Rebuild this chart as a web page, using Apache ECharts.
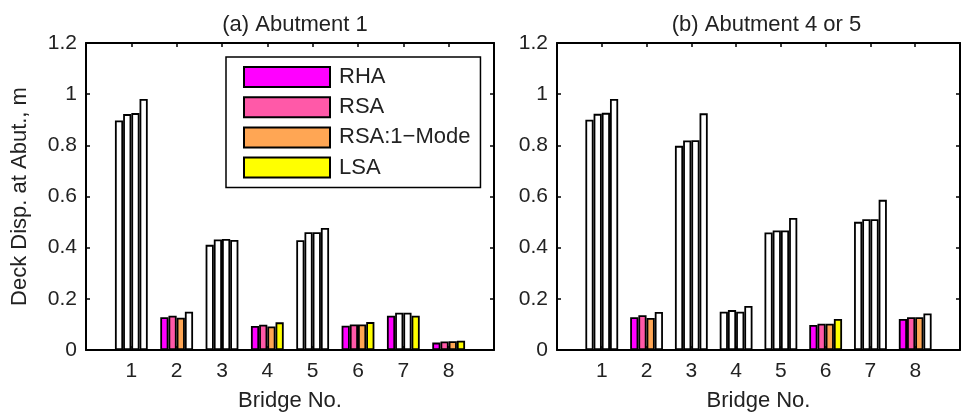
<!DOCTYPE html>
<html>
<head>
<meta charset="utf-8">
<script src="https://cdn.jsdelivr.net/npm/echarts@6/dist/echarts.min.js"></script>
<style>
html,body{margin:0;padding:0;background:#fff;}
#chart{width:963px;height:418px;}
</style>
</head>
<body>
<div id="chart"></div>
<script>
// ---- data ----
const bridges = [1, 2, 3, 4, 5, 6, 7, 8];
const xTickLabels = ['1', '2', '3', '4', '5', '6', '7', '8'];
const seriesNames = ['RHA', 'RSA', 'RSA:1\u2212Mode', 'LSA'];
const seriesColors = ['#ff00ff', '#ff59a8', '#ffa654', '#ffff00'];
const panelTitles = ['(a) Abutment 1', '(b) Abutment 4 or 5'];

// (a) Abutment 1
const rhaA  = [0.897, 0.128, 0.411, 0.094, 0.429, 0.095, 0.134, 0.029];
const rsaA  = [0.922, 0.134, 0.432, 0.099, 0.460, 0.100, 0.146, 0.033];
const rsa1A = [0.926, 0.126, 0.434, 0.092, 0.460, 0.100, 0.146, 0.034];
const lsaA  = [0.981, 0.150, 0.430, 0.108, 0.477, 0.109, 0.134, 0.036];
// which bars are drawn coloured (1) vs white (0)
const fillRhaA  = [0, 1, 0, 1, 0, 1, 1, 1];
const fillRsaA  = [0, 1, 0, 1, 0, 1, 0, 1];
const fillRsa1A = [0, 1, 0, 1, 0, 1, 0, 1];
const fillLsaA  = [0, 0, 0, 1, 0, 1, 1, 1];

// (b) Abutment 4 or 5
const rhaB  = [0.900, 0.128, 0.798, 0.150, 0.459, 0.098, 0.501, 0.121];
const rsaB  = [0.923, 0.136, 0.819, 0.156, 0.467, 0.103, 0.511, 0.128];
const rsa1B = [0.927, 0.125, 0.820, 0.150, 0.467, 0.103, 0.511, 0.128];
const lsaB  = [0.981, 0.149, 0.925, 0.172, 0.516, 0.121, 0.587, 0.143];
const fillRhaB  = [0, 1, 0, 0, 0, 1, 0, 1];
const fillRsaB  = [0, 1, 0, 0, 0, 1, 0, 1];
const fillRsa1B = [0, 1, 0, 0, 0, 1, 0, 1];
const fillLsaB  = [0, 0, 0, 0, 0, 1, 0, 0];

// ---- chart ----
const FONT = 'Liberation Sans, Arial, Helvetica, sans-serif';
const TXT = '#222';
const grids = [
  {left: 86, top: 43, width: 408, height: 307},
  {left: 557, top: 43, width: 409, height: 307}
];
const panelValues = [[rhaA, rsaA, rsa1A, lsaA], [rhaB, rsaB, rsa1B, lsaB]];
const panelFills = [[fillRhaA, fillRsaA, fillRsa1A, fillLsaA], [fillRhaB, fillRsaB, fillRsa1B, fillLsaB]];

const frameLine = {show: true, onZero: false, lineStyle: {color: '#000', width: 2}};
const tickIn = {show: true, inside: true, length: 4, lineStyle: {color: '#000', width: 1.5}};

const xAxes = [], yAxes = [], series = [], titles = [];
grids.forEach((g, p) => {
  xAxes.push({
    type: 'value', gridIndex: p, position: 'bottom', min: 0, max: 9, interval: 1,
    name: 'Bridge No.', nameLocation: 'middle', nameGap: 40,
    nameTextStyle: {fontFamily: FONT, fontSize: 22, color: TXT},
    axisLine: frameLine, axisTick: tickIn,
    axisLabel: {
      fontFamily: FONT, fontSize: 21, color: TXT, margin: 11,
      formatter: v => { const i = bridges.indexOf(v); return i >= 0 ? xTickLabels[i] : ''; }
    },
    splitLine: {show: false}
  });
  xAxes.push({
    type: 'value', gridIndex: p, position: 'top', min: 0, max: 9, interval: 1,
    axisLine: frameLine, axisTick: tickIn,
    axisLabel: {show: false}, splitLine: {show: false}
  });
  yAxes.push({
    type: 'value', gridIndex: p, position: 'left', min: 0, max: 1.2, interval: 0.2,
    name: p === 0 ? 'Deck Disp. at Abut., m' : '', nameLocation: 'middle', nameGap: 55,
    nameTextStyle: {fontFamily: FONT, fontSize: 22, color: TXT},
    axisLine: frameLine, axisTick: tickIn,
    axisLabel: {fontFamily: FONT, fontSize: 21, color: TXT, margin: 9},
    splitLine: {show: false}
  });
  yAxes.push({
    type: 'value', gridIndex: p, position: 'right', min: 0, max: 1.2, interval: 0.2,
    axisLine: frameLine, axisTick: tickIn,
    axisLabel: {show: false}, splitLine: {show: false}
  });
  titles.push({
    text: panelTitles[p], left: g.left + g.width / 2, top: 9, textAlign: 'center',
    textStyle: {fontFamily: FONT, fontSize: 22, fontWeight: 'normal', color: TXT}
  });
  seriesNames.forEach((name, s) => {
    const vals = panelValues[p][s];
    const fill = panelFills[p][s];
    series.push({
      name: name, type: 'bar', xAxisIndex: p * 2, yAxisIndex: p * 2,
      barWidth: 8.2, barGap: '0%',
      itemStyle: {color: seriesColors[s], borderColor: '#000', borderWidth: 1.8},
      emphasis: {disabled: true},
      data: bridges.map((b, i) => fill[i]
        ? {value: [b, vals[i]]}
        : {value: [b, vals[i]], itemStyle: {color: '#ffffff'}})
    });
  });
});

const chart = echarts.init(document.getElementById('chart'), null, {renderer: 'canvas'});
chart.setOption({
  backgroundColor: '#fff',
  animation: false,
  title: titles,
  grid: grids,
  xAxis: xAxes,
  yAxis: yAxes,
  legend: {
    data: seriesNames, orient: 'vertical', left: 226, top: 57,
    itemWidth: 86, itemHeight: 20, itemGap: 8.2,
    padding: [9, 10, 9, 17],
    backgroundColor: '#fff', borderColor: '#000', borderWidth: 1.5,
    icon: 'rect',
    itemStyle: {borderColor: '#000', borderWidth: 2},
    textStyle: {fontFamily: FONT, fontSize: 22, lineHeight: 20, color: TXT, padding: [0, 0, 0, 4]}
  },
  series: series
});
</script>
</body>
</html>
